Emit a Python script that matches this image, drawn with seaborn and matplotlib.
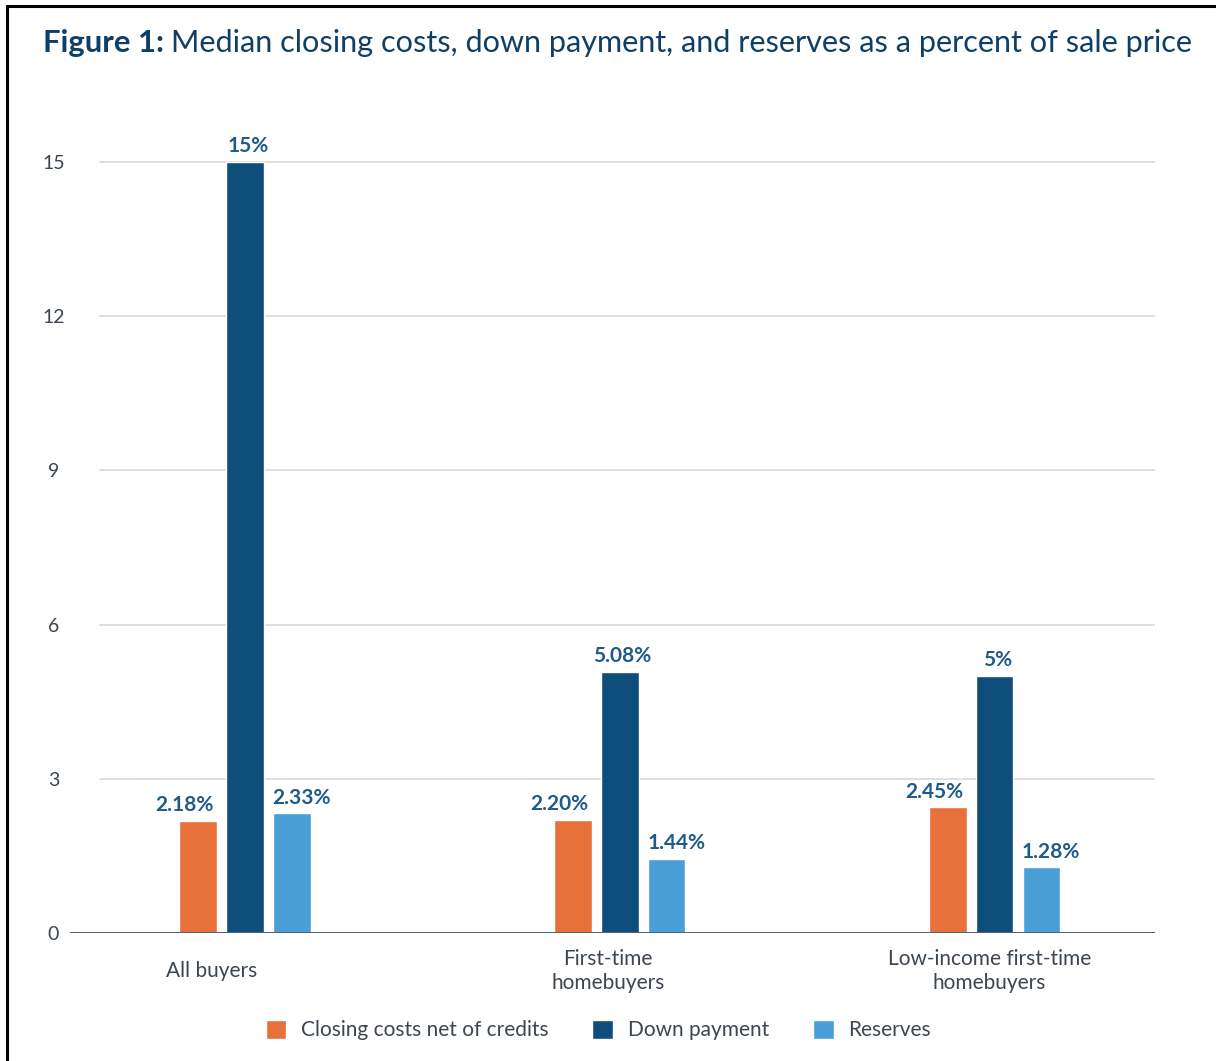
import matplotlib
matplotlib.use("Agg")
import matplotlib.pyplot as plt
from matplotlib.lines import Line2D
from matplotlib.transforms import ScaledTranslation
import seaborn as sns
import pandas as pd

# Values: median amounts as a percent of sale price
groups = ["All buyers", "First-time\nhomebuyers", "Low-income first-time\nhomebuyers"]
series = ["Closing costs net of credits", "Down payment", "Reserves"]
closing_costs = [2.18, 2.20, 2.45]
down_payment = [15.0, 5.08, 5.0]
reserves = [2.33, 1.44, 1.28]
value_labels = [["2.18%", "2.20%", "2.45%"],
                ["15%", "5.08%", "5%"],
                ["2.33%", "1.44%", "1.28%"]]
y_ticks = [0, 3, 6, 9, 12, 15]

colors = ["#E8703A", "#0F4D7C", "#4A9FD6"]
text_navy = "#0F3F66"
label_blue = "#1F5A8A"
tick_grey = "#3C4650"

sns.set_theme(style="white")
plt.rcParams["font.family"] = ["Lato", "DejaVu Sans"]

df = pd.DataFrame({
    "group": groups * 3,
    "series": [series[0]] * 3 + [series[1]] * 3 + [series[2]] * 3,
    "value": closing_costs + down_payment + reserves,
})

fig = plt.figure(figsize=(12.16, 10.61), dpi=100)
ax = fig.add_axes([0.0576, 0.1206, 0.892, 0.751])

sns.barplot(data=df, x="group", y="value", hue="series", order=groups,
            hue_order=series, palette=colors, width=0.375, gap=0.2,
            saturation=1, ax=ax, legend=True)

ax.set_xlim(-0.467, 2.427)
ax.set_ylim(0, 15.5)
ax.set_yticks(y_ticks)
ax.set_xlabel("")
ax.set_ylabel("")

# light horizontal gridlines that start a little right of the axis origin
for t in y_ticks[1:]:
    ax.axhline(t, xmin=0.028, xmax=1.0, color="#DCDCDC", lw=1.3, zorder=0)
ax.axhline(0, color="#4F6478", lw=2.2, zorder=3)

for s in ax.spines.values():
    s.set_visible(False)
ax.tick_params(axis="y", length=0, pad=12, labelsize=14, labelcolor=tick_grey)
ax.tick_params(axis="x", length=0, pad=0, labelsize=15, labelcolor=tick_grey)
for lab in ax.get_yticklabels():
    lab.set_horizontalalignment("center")

# category labels: vertically centred below the baseline, nudged left
x_shifts = [-33, -12, -5]
for lab, dx in zip(ax.get_xticklabels(), x_shifts):
    lab.set_verticalalignment("center")
    lab.set_transform(lab.get_transform() +
                      ScaledTranslation(dx / 100, -38 / 100, fig.dpi_scale_trans))

# value labels above each bar; side series labels spread outward a little
label_shifts_pt = [-10, 2, 7]
for container, labels, dx in zip(ax.containers, value_labels, label_shifts_pt):
    texts = ax.bar_label(container, labels=labels, padding=4, fontsize=15,
                         fontweight="bold", color=label_blue)
    for t in texts:
        ox, oy = t.xyann
        t.xyann = (ox + dx, oy)

leg = ax.legend(loc="center", bbox_to_anchor=(0.492, 0.029),
                bbox_transform=fig.transFigure, ncol=3, frameon=False,
                fontsize=15, handlelength=1.0, handleheight=1.0,
                columnspacing=2.1, handletextpad=0.7)
for t in leg.get_texts():
    t.set_color(tick_grey)

# title: bold figure number followed by regular description
t1 = fig.text(0.035, 0.951, "Figure 1:", fontsize=22.3, fontweight="bold",
              color=text_navy, va="baseline")
fig.canvas.draw()
bb = t1.get_window_extent()
x_after = bb.x1 / fig.bbox.width + 0.0065
fig.text(x_after, 0.951, "Median closing costs, down payment, and reserves as a percent of sale price",
         fontsize=22.1, color=text_navy, va="baseline")

# frame lines along the top and left edge
fig.add_artist(Line2D([0.006, 0.006], [0.0, 0.994], transform=fig.transFigure,
                      color="black", lw=2.2))
fig.add_artist(Line2D([0.006, 1.0], [0.994, 0.994], transform=fig.transFigure,
                      color="black", lw=2.2))

fig.savefig("out.png", dpi=100, facecolor="white")
